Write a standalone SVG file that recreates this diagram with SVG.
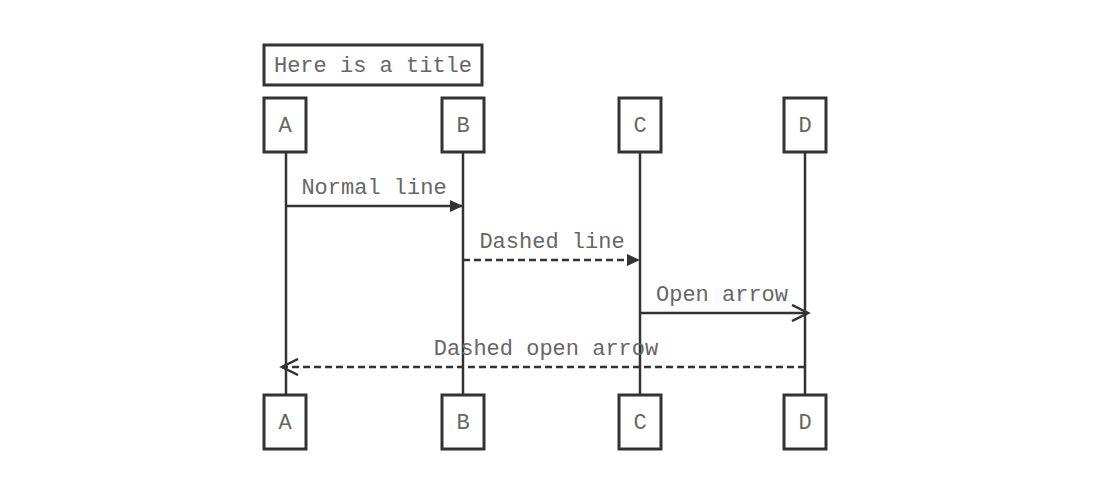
<svg xmlns="http://www.w3.org/2000/svg" width="1120" height="497" viewBox="0 0 1120 497">
<style>
.box{fill:#fff;stroke:#333;stroke-width:3}
.life{stroke:#333;stroke-width:2.5}
.msg{stroke:#333;stroke-width:2.5;fill:none}
.dash{stroke-dasharray:7,4}
text{font-family:"Liberation Mono","Courier New",monospace;font-size:22px;fill:#666}
.c{text-anchor:middle}
</style>
<defs>
<marker id="filled" markerWidth="14" markerHeight="14" refX="12" refY="7" orient="auto" markerUnits="userSpaceOnUse">
<path d="M0,1 L13,7 L0,13 Z" fill="#333"/>
</marker>
<marker id="open" markerWidth="20" markerHeight="18" refX="17" refY="9" orient="auto" markerUnits="userSpaceOnUse">
<path d="M1,1 L17,9 L1,17" fill="none" stroke="#333" stroke-width="2.5"/>
</marker>
</defs>
<rect x="0" y="0" width="1120" height="497" fill="#fff"/>
<g id="title">
<rect class="box" x="264" y="45" width="218" height="40"/>
<text x="373" y="72" class="c">Here is a title</text>
</g>
<g id="lifelines">
<line class="life" x1="286" y1="152" x2="286" y2="395"/>
<line class="life" x1="463" y1="152" x2="463" y2="395"/>
<line class="life" x1="640" y1="152" x2="640" y2="395"/>
<line class="life" x1="805" y1="152" x2="805" y2="395"/>
</g>
<g id="A">
<rect class="box" x="264" y="98" width="42" height="54"/>
<text x="285" y="132" class="c">A</text>
<rect class="box" x="264" y="395" width="42" height="54"/>
<text x="285" y="429" class="c">A</text>
</g>
<g id="B">
<rect class="box" x="442" y="98" width="42" height="54"/>
<text x="463" y="132" class="c">B</text>
<rect class="box" x="442" y="395" width="42" height="54"/>
<text x="463" y="429" class="c">B</text>
</g>
<g id="C">
<rect class="box" x="619" y="98" width="42" height="54"/>
<text x="640" y="132" class="c">C</text>
<rect class="box" x="619" y="395" width="42" height="54"/>
<text x="640" y="429" class="c">C</text>
</g>
<g id="D">
<rect class="box" x="784" y="98" width="42" height="54"/>
<text x="805" y="132" class="c">D</text>
<rect class="box" x="784" y="395" width="42" height="54"/>
<text x="805" y="429" class="c">D</text>
</g>
<g id="connectors">
<line class="msg" x1="286" y1="206" x2="462" y2="206" marker-end="url(#filled)"/>
<text x="374" y="194" class="c">Normal line</text>
<line class="msg dash" x1="463" y1="260" x2="639" y2="260" marker-end="url(#filled)"/>
<text x="552" y="248" class="c">Dashed line</text>
<line class="msg" x1="640" y1="313" x2="808" y2="313" marker-end="url(#open)"/>
<text x="722" y="301" class="c">Open arrow</text>
<line class="msg dash" x1="805" y1="367" x2="282" y2="367" marker-end="url(#open)"/>
<text x="546" y="355" class="c">Dashed open arrow</text>
</g>
</svg>
